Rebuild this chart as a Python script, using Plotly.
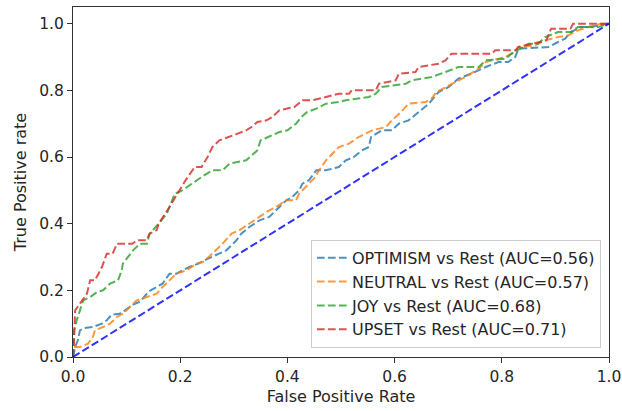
import plotly.graph_objects as go

# ROC points (false positive rate, true positive rate) per class, one-vs-rest
optimism_fpr = [0.0, 0.004, 0.009, 0.013, 0.022, 0.037, 0.054, 0.063, 0.072, 0.087, 0.097, 0.112, 0.125,
                0.141, 0.156, 0.167, 0.180, 0.193, 0.204, 0.217, 0.234, 0.245, 0.286, 0.305, 0.314, 0.329,
                0.348, 0.366, 0.385, 0.398, 0.409, 0.422, 0.428, 0.440, 0.454, 0.472, 0.496, 0.509, 0.524,
                0.539, 0.552, 0.556, 0.576, 0.595, 0.608, 0.626, 0.645, 0.664, 0.682, 0.701, 0.719, 0.743,
                0.770, 0.794, 0.812, 0.825, 0.831, 0.887, 0.905, 0.918, 0.929, 0.948, 0.967, 0.993, 1.0]
optimism_tpr = [0.0, 0.03, 0.05, 0.08, 0.087, 0.09, 0.10, 0.11, 0.127, 0.13, 0.14, 0.157, 0.166,
                0.196, 0.21, 0.22, 0.25, 0.25, 0.26, 0.27, 0.28, 0.29, 0.32, 0.35, 0.37, 0.39,
                0.41, 0.42, 0.45, 0.47, 0.48, 0.50, 0.52, 0.53, 0.56, 0.56, 0.57, 0.59, 0.60,
                0.62, 0.63, 0.66, 0.68, 0.68, 0.70, 0.71, 0.735, 0.76, 0.795, 0.81, 0.835, 0.85,
                0.87, 0.885, 0.885, 0.90, 0.925, 0.93, 0.945, 0.955, 0.975, 0.99, 0.99, 1.0, 1.0]

neutral_fpr = [0.0, 0.0, 0.013, 0.028, 0.037, 0.041, 0.056, 0.069, 0.082, 0.093, 0.106, 0.119, 0.138,
               0.156, 0.167, 0.180, 0.193, 0.212, 0.230, 0.242, 0.260, 0.279, 0.296, 0.310, 0.329, 0.348,
               0.366, 0.379, 0.398, 0.416, 0.422, 0.440, 0.452, 0.459, 0.472, 0.496, 0.515, 0.533, 0.558,
               0.584, 0.595, 0.612, 0.626, 0.658, 0.669, 0.678, 0.695, 0.714, 0.732, 0.757, 0.770, 0.781,
               0.807, 0.825, 0.831, 0.862, 0.881, 0.905, 0.924, 0.942, 0.961, 0.985, 1.0]
neutral_tpr = [0.0, 0.03, 0.03, 0.04, 0.06, 0.08, 0.09, 0.10, 0.12, 0.13, 0.15, 0.17, 0.18,
               0.19, 0.21, 0.23, 0.25, 0.26, 0.28, 0.285, 0.31, 0.34, 0.37, 0.38, 0.40, 0.42,
               0.44, 0.45, 0.47, 0.47, 0.49, 0.52, 0.54, 0.56, 0.59, 0.63, 0.64, 0.66, 0.68,
               0.69, 0.71, 0.735, 0.76, 0.765, 0.775, 0.795, 0.81, 0.825, 0.84, 0.865, 0.885, 0.89,
               0.90, 0.915, 0.93, 0.935, 0.95, 0.96, 0.965, 0.98, 0.99, 1.0, 1.0]

joy_fpr = [0.0, 0.002, 0.007, 0.013, 0.019, 0.032, 0.045, 0.056, 0.069, 0.084, 0.091, 0.093, 0.102,
           0.112, 0.125, 0.138, 0.143, 0.149, 0.160, 0.175, 0.185, 0.190, 0.204, 0.221, 0.240, 0.260,
           0.279, 0.292, 0.323, 0.344, 0.350, 0.364, 0.385, 0.400, 0.416, 0.426, 0.437, 0.454, 0.472,
           0.496, 0.509, 0.552, 0.565, 0.576, 0.621, 0.632, 0.669, 0.695, 0.719, 0.757, 0.770, 0.807,
           0.818, 0.850, 0.868, 0.881, 0.905, 0.930, 0.942, 0.980, 1.0]
joy_tpr = [0.0, 0.08, 0.11, 0.14, 0.17, 0.18, 0.195, 0.20, 0.22, 0.23, 0.26, 0.28, 0.30,
           0.32, 0.34, 0.34, 0.37, 0.38, 0.40, 0.43, 0.47, 0.49, 0.50, 0.52, 0.54, 0.56,
           0.56, 0.58, 0.59, 0.62, 0.65, 0.66, 0.675, 0.68, 0.70, 0.72, 0.735, 0.745, 0.76,
           0.765, 0.77, 0.78, 0.79, 0.81, 0.82, 0.83, 0.84, 0.855, 0.87, 0.87, 0.89, 0.895,
           0.91, 0.94, 0.94, 0.96, 0.975, 0.975, 0.99, 0.99, 1.0]

upset_fpr = [0.0, 0.002, 0.004, 0.018, 0.026, 0.032, 0.041, 0.054, 0.063, 0.074, 0.082, 0.111, 0.119,
             0.137, 0.143, 0.156, 0.160, 0.180, 0.198, 0.210, 0.227, 0.240, 0.251, 0.260, 0.273, 0.292,
             0.307, 0.323, 0.333, 0.344, 0.361, 0.372, 0.385, 0.398, 0.413, 0.428, 0.446, 0.472, 0.496,
             0.515, 0.520, 0.565, 0.571, 0.602, 0.608, 0.639, 0.645, 0.682, 0.695, 0.706, 0.781, 0.788,
             0.825, 0.831, 0.883, 0.892, 0.928, 0.933, 1.0]
upset_tpr = [0.0, 0.05, 0.14, 0.17, 0.19, 0.23, 0.23, 0.27, 0.31, 0.31, 0.34, 0.34, 0.35,
             0.35, 0.37, 0.38, 0.40, 0.45, 0.50, 0.53, 0.57, 0.57, 0.60, 0.63, 0.65, 0.66,
             0.67, 0.68, 0.69, 0.705, 0.71, 0.72, 0.74, 0.745, 0.75, 0.77, 0.77, 0.78, 0.79,
             0.79, 0.80, 0.80, 0.82, 0.83, 0.85, 0.855, 0.87, 0.88, 0.89, 0.91, 0.91, 0.92,
             0.92, 0.93, 0.95, 0.985, 0.985, 1.0, 1.0]

class_names = ["OPTIMISM", "NEUTRAL", "JOY", "UPSET"]
class_auc = [0.56, 0.57, 0.68, 0.71]
class_colors = ["#1f77b4", "#ff7f0e", "#2ca02c", "#d62728"]
curves = [(optimism_fpr, optimism_tpr), (neutral_fpr, neutral_tpr),
          (joy_fpr, joy_tpr), (upset_fpr, upset_tpr)]

chance_x = [0, 1]
chance_y = [0, 1]
tick_vals = [0.0, 0.2, 0.4, 0.6, 0.8, 1.0]

dash = "7.7px,3.3px"
font = "DejaVu Sans"
fs = 16
tick_fs = 15.5
text_color = "#262626"

fig = go.Figure()
for (fpr, tpr), name, auc, color in zip(curves, class_names, class_auc, class_colors):
    fig.add_trace(go.Scatter(
        x=fpr, y=tpr, mode="lines",
        name=f"{name} vs Rest (AUC={auc:.2f})",
        line=dict(color=color, width=2, dash=dash),
        opacity=0.8,
    ))

# chance diagonal
fig.add_trace(go.Scatter(
    x=chance_x, y=chance_y, mode="lines", showlegend=False,
    line=dict(color="#0000ff", width=2, dash=dash), opacity=0.8,
))

axis_common = dict(
    showgrid=False, zeroline=False, showline=True, mirror=True,
    linecolor="#333333", linewidth=1.2,
    ticks="outside", ticklen=5, tickwidth=1.2, tickcolor="#333333",
    tickvals=tick_vals, tickformat=".1f", ticklabeloverflow="allow",
    automargin=False,
    tickfont=dict(family=font, size=tick_fs, color=text_color),
)

fig.update_layout(
    width=622, height=411,
    margin=dict(l=73, r=13, t=7, b=54),
    paper_bgcolor="white", plot_bgcolor="white",
    font=dict(family=font, size=fs, color=text_color),
    xaxis=dict(range=[0, 1],
               title=dict(text="False Positive Rate", font=dict(family=font, size=fs), standoff=6),
               **axis_common),
    yaxis=dict(range=[0, 1.05],
               title=dict(text="True Positive rate", font=dict(family=font, size=fs), standoff=8),
               **axis_common),
    legend=dict(
        x=0.985, y=0.026, xanchor="right", yanchor="bottom",
        bgcolor="rgba(255,255,255,0.85)", bordercolor="#cccccc", borderwidth=1,
        font=dict(family=font, size=fs, color=text_color),
    ),
)

fig.write_html("out.html")
